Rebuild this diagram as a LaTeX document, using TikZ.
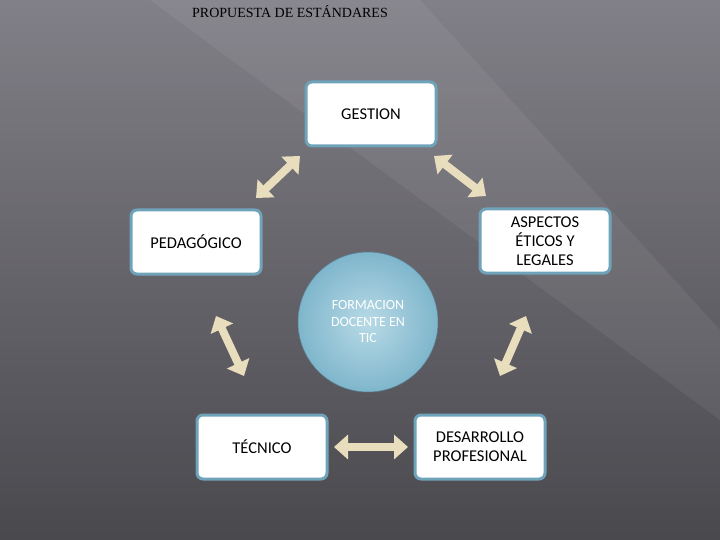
\documentclass[tikz,border=0pt]{standalone}
\usepackage{fontspec}
\setmainfont{Carlito}
\newfontfamily\titlefont{Liberation Serif}
\usetikzlibrary{arrows.meta}
\definecolor{bgdark}{HTML}{4A494E}
\definecolor{bglight}{HTML}{9A98A0}
\definecolor{boxedge}{HTML}{6FA3BA}
\definecolor{beige}{HTML}{E8DDBC}
\definecolor{ballc}{HTML}{7FB6CC}
\definecolor{ballin}{HTML}{B8DAE6}
\tikzset{
  box/.style={draw=boxedge,line width=3pt,fill=white,rounded corners=6pt,minimum width=130pt,minimum height=64pt,align=center,font=\fontsize{16.5}{19}\selectfont},
  dbl/.style={draw=beige,line width=8pt,{Triangle[length=14pt,width=24pt]}-{Triangle[length=14pt,width=24pt]}}
}
\begin{document}
\begin{tikzpicture}[x=1pt,y=-1pt]
\useasboundingbox (0,0) rectangle (720,540);
\shade[left color=bglight,right color=bgdark,shading angle=0] (0,0) rectangle (720,540);
\shade[top color=bgdark!50!bglight,bottom color=bgdark,opacity=0.6] (0,0) rectangle (720,540);
\fill[white,opacity=0.06] (150,0) -- (420,0) -- (720,330) -- (720,420) -- cycle;
\node[font=\titlefont\fontsize{14}{16}\selectfont] (title) at (290,12) {PROPUESTA DE ESTÁNDARES};
\node[circle,inner color=ballin,outer color=ballc,minimum size=140pt,draw=boxedge!80!black,line width=0.5pt,text=white,align=center,font=\fontsize{14}{16.5}\selectfont] (c) at (368,322) {FORMACION\\DOCENTE EN\\TIC};
\node[box] (g) at (371,114) {GESTION};
\node[box] (p) at (196,242) {PEDAGÓGICO};
\node[box] (a) at (545,241) {ASPECTOS\\ÉTICOS Y\\LEGALES};
\node[box] (t) at (262,447) {TÉCNICO};
\node[box] (d) at (480,447) {DESARROLLO\\PROFESIONAL};
\coordinate (g1) at (300,156); \coordinate (p1) at (256,198);
\coordinate (g2) at (434,156); \coordinate (a1) at (486,196);
\coordinate (p2) at (216,316); \coordinate (t1) at (244,376);
\coordinate (a2) at (526,316); \coordinate (d1) at (500,376);
\coordinate (t2) at (334,447); \coordinate (d2) at (408,447);
\draw[dbl] (p1) -- (g1);
\draw[dbl] (g2) -- (a1);
\draw[dbl] (p2) -- (t1);
\draw[dbl] (a2) -- (d1);
\draw[dbl] (t2) -- (d2);
\end{tikzpicture}
\end{document}
